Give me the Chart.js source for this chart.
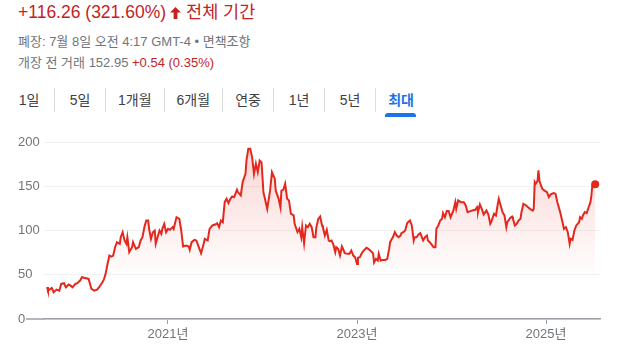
<!DOCTYPE html>
<html lang="ko">
<head>
<meta charset="utf-8">
<script src="https://cdn.jsdelivr.net/npm/chart.js@4"></script>
<style>
  html, body { margin: 0; padding: 0; background: #fff; }
  body { width: 640px; height: 360px; position: relative; overflow: hidden;
         font-family: "Liberation Sans", Arial, "Noto Sans CJK KR", sans-serif; }
  .head { position: absolute; left: 18px; top: 1px; font-size: 17.5px; line-height: 22px; color: #c5221f; white-space: nowrap; }
  .head svg { vertical-align: -1px; margin: 0 5px 0 4px; }
  .sub { position: absolute; left: 18px; font-size: 13px; line-height: 16px; color: #70757a; white-space: nowrap; }
  .red { color: #c5221f; }
  .tabs { position: absolute; left: 4px; top: 88px; display: flex; font-size: 14px; line-height: 24px; color: #3c4043; }
  .tabs span { position: relative; padding: 0 12px; min-width: 26px; text-align: center; }
  .tabs span + span { border-left: 1px solid #dadce0; }
  .tabs .on { color: #1a73e8; font-weight: bold; }
  .tabs .on::after { content: ""; position: absolute; left: 50%; margin-left: -16px; width: 31px; bottom: -5px; height: 4px;
                     background: #1a73e8; border-radius: 3px 3px 0 0; }
  #box { position: absolute; left: 0; top: 130px; width: 640px; height: 230px; }
</style>
</head>
<body>
<div class="head">+116.26 (321.60%)<svg width="11" height="12" viewBox="0 0 11 12"><path fill="#c5221f" d="M5.5 0L0 5.6h3.6V12h3.8V5.6H11z"/></svg>전체 기간</div>
<div class="sub" style="top:34px">폐장: 7월 8일 오전 4:17 GMT-4 • 면책조항</div>
<div class="sub" style="top:55px">개장 전 거래 152.95 <span class="red">+0.54 (0.35%)</span></div>
<div class="tabs">
  <span>1일</span><span>5일</span><span>1개월</span><span>6개월</span><span>연중</span><span>1년</span><span>5년</span><span class="on">최대</span>
</div>
<div id="box"><canvas id="chart"></canvas></div>
<script>
// dates as decimal years, closes
const dates = [
  2019.72, 2019.73, 2019.77, 2019.79, 2019.82, 2019.85, 2019.87, 2019.90, 2019.92, 2019.95,
  2019.97, 2019.99, 2020.02, 2020.04, 2020.07, 2020.09, 2020.12, 2020.16, 2020.17, 2020.19,
  2020.22, 2020.25, 2020.27, 2020.30, 2020.32, 2020.34, 2020.36, 2020.38, 2020.40, 2020.42,
  2020.44, 2020.46, 2020.49, 2020.50, 2020.52, 2020.54, 2020.56, 2020.57, 2020.59, 2020.62,
  2020.63, 2020.66, 2020.69, 2020.71, 2020.73, 2020.75, 2020.77, 2020.79, 2020.80, 2020.82,
  2020.84, 2020.86, 2020.87, 2020.89, 2020.91, 2020.93, 2020.94, 2020.96, 2020.98, 2021.00,
  2021.02, 2021.05, 2021.06, 2021.09, 2021.12, 2021.14, 2021.16, 2021.19, 2021.22, 2021.23,
  2021.25, 2021.28, 2021.30, 2021.32, 2021.35, 2021.37, 2021.39, 2021.42, 2021.44, 2021.47,
  2021.50, 2021.52, 2021.54, 2021.56, 2021.58, 2021.60, 2021.62, 2021.64, 2021.66, 2021.68,
  2021.70, 2021.73, 2021.74, 2021.77, 2021.79, 2021.82, 2021.83, 2021.85, 2021.87, 2021.89,
  2021.91, 2021.93, 2021.95, 2021.97, 2021.99, 2022.01, 2022.03, 2022.05, 2022.08, 2022.10,
  2022.13, 2022.14, 2022.17, 2022.19, 2022.20, 2022.22, 2022.24, 2022.26, 2022.28, 2022.30,
  2022.33, 2022.34, 2022.37, 2022.39, 2022.41, 2022.42, 2022.44, 2022.46, 2022.48, 2022.50,
  2022.52, 2022.54, 2022.56, 2022.57, 2022.59, 2022.61, 2022.63, 2022.64, 2022.66, 2022.68,
  2022.70, 2022.71, 2022.73, 2022.75, 2022.77, 2022.78, 2022.80, 2022.82, 2022.84, 2022.86,
  2022.87, 2022.90, 2022.92, 2022.94, 2022.96, 2022.98, 2023.00, 2023.01, 2023.03, 2023.05,
  2023.07, 2023.10, 2023.12, 2023.14, 2023.17, 2023.18, 2023.20, 2023.22, 2023.23, 2023.25,
  2023.27, 2023.30, 2023.32, 2023.34, 2023.35, 2023.37, 2023.38, 2023.40, 2023.42, 2023.44,
  2023.46, 2023.47, 2023.49, 2023.51, 2023.53, 2023.54, 2023.56, 2023.58, 2023.60, 2023.61,
  2023.63, 2023.65, 2023.67, 2023.68, 2023.70, 2023.72, 2023.74, 2023.75, 2023.77, 2023.79,
  2023.81, 2023.83, 2023.84, 2023.86, 2023.88, 2023.90, 2023.91, 2023.93, 2023.95, 2023.97,
  2023.99, 2024.02, 2024.04, 2024.05, 2024.07, 2024.10, 2024.13, 2024.15, 2024.17, 2024.20,
  2024.22, 2024.25, 2024.27, 2024.28, 2024.30, 2024.32, 2024.34, 2024.35, 2024.37, 2024.39,
  2024.41, 2024.42, 2024.45, 2024.47, 2024.49, 2024.50, 2024.52, 2024.54, 2024.56, 2024.58,
  2024.59, 2024.62, 2024.64, 2024.65, 2024.67, 2024.69, 2024.71, 2024.73, 2024.74, 2024.76,
  2024.79, 2024.81, 2024.83, 2024.86, 2024.87, 2024.88, 2024.89, 2024.91, 2024.92, 2024.93,
  2024.94, 2024.96, 2024.98, 2025.01, 2025.03, 2025.05, 2025.08, 2025.10, 2025.12, 2025.15,
  2025.17, 2025.19, 2025.21, 2025.23, 2025.25, 2025.26, 2025.28, 2025.30, 2025.32, 2025.35,
  2025.36, 2025.38, 2025.39, 2025.41, 2025.43, 2025.45, 2025.47, 2025.48, 2025.49, 2025.52
];
const closes = [
  36.1, 32.0, 35.1, 30.2, 33.2, 32.0, 39.6, 40.4, 35.8, 38.9,
  37.7, 35.8, 39.6, 40.4, 43.4, 47.2, 46.4, 45.3, 41.5, 34.0,
  32.0, 33.2, 35.8, 40.4, 44.1, 51.0, 62.2, 71.7, 70.6, 71.7,
  81.1, 86.8, 84.9, 92.4, 98.1, 88.7, 84.9, 92.4, 75.5, 81.1,
  86.8, 79.2, 81.1, 88.7, 92.4, 103.8, 111.3, 111.3, 101.9, 90.6,
  98.1, 100.0, 84.9, 92.4, 100.0, 96.2, 101.9, 107.5, 98.1, 101.9,
  100.8, 103.8, 101.9, 115.0, 113.2, 100.0, 81.9, 83.0, 81.9, 78.1,
  86.8, 89.4, 88.7, 83.0, 74.3, 81.9, 90.6, 88.7, 101.9, 105.7,
  106.8, 108.3, 103.8, 111.3, 109.4, 132.0, 135.8, 131.0, 135.8, 138.5,
  137.7, 146.0, 143.4, 139.6, 154.7, 164.0, 179.0, 192.5, 192.5, 183.0,
  164.0, 175.5, 166.0, 179.0, 177.0, 143.0, 134.0, 124.5, 145.0, 166.0,
  158.5, 145.0, 136.0, 126.0, 145.0, 146.0, 152.8, 136.0, 134.0, 119.0,
  117.0, 107.5, 98.1, 101.9, 92.4, 103.8, 85.6, 105.7, 103.8, 107.5,
  103.8, 92.4, 92.4, 103.8, 113.0, 115.8, 105.7, 103.0, 94.3, 100.7,
  88.7, 88.0, 88.7, 84.0, 75.5, 81.1, 79.2, 71.7, 81.9, 77.3,
  74.3, 73.6, 73.6, 77.3, 71.7, 69.8, 62.2, 69.1, 69.8, 74.3,
  77.3, 80.4, 79.2, 77.3, 74.3, 64.0, 67.9, 66.0, 73.6, 66.0,
  66.8, 66.8, 68.0, 79.2, 86.8, 90.6, 92.4, 98.1, 94.3, 92.4,
  94.3, 96.9, 98.1, 100.0, 108.3, 109.4, 111.3, 105.7, 88.7, 92.4,
  92.4, 95.5, 97.0, 94.3, 88.7, 92.4, 94.3, 88.7, 86.8, 84.0,
  81.1, 81.1, 101.9, 105.7, 111.3, 113.2, 119.6, 115.0, 122.0, 122.0,
  115.0, 122.6, 132.0, 124.5, 134.0, 132.0, 132.0, 128.3, 120.7, 121.9,
  122.6, 123.4, 126.4, 120.7, 129.4, 124.5, 118.1, 119.6, 122.6, 118.1,
  107.5, 109.4, 118.9, 117.0, 130.2, 135.8, 128.3, 120.7, 117.0, 103.8,
  109.4, 114.3, 115.8, 113.2, 105.7, 107.5, 111.3, 113.2, 120.7, 130.2,
  128.3, 126.4, 124.5, 122.6, 124.5, 154.7, 152.8, 155.8, 167.9, 156.6,
  152.8, 147.2, 145.3, 143.4, 137.7, 140.8, 142.3, 141.5, 132.0, 120.7,
  111.3, 101.9, 103.8, 98.1, 84.9, 90.6, 89.4, 100.0, 105.7, 109.4,
  115.0, 113.2, 117.0, 120.7, 119.6, 126.0, 132.0, 139.6, 151.0, 152.4
];
const yearTicks = [2021, 2023, 2025];
const priceTicks = [0, 50, 100, 150, 200];
const xRange = [2019.688, 2025.571];

const RED = '#e3281d';
const GREY = '#70757a';
const FONT = '"Liberation Sans", Arial, "Noto Sans CJK KR", sans-serif';

// the baseline runs a bit further left than the grid, past the "0" label
const baseline = {
  id: 'baseline',
  afterDraw(chart) {
    const { ctx, chartArea, scales } = chart;
    const y = scales.y.getPixelForValue(0);
    ctx.save();
    ctx.strokeStyle = '#9aa0a6';
    ctx.lineWidth = 1.5;
    ctx.beginPath();
    ctx.moveTo(scales.y.left + 8, y);
    ctx.lineTo(chartArea.left, y);
    ctx.stroke();
    ctx.restore();
  }
};

new Chart(document.getElementById('chart'), {
  type: 'line',
  data: {
    datasets: [{
      data: dates.map((d, i) => ({ x: d, y: closes[i] })),
      borderColor: RED,
      borderWidth: 2,
      tension: 0,
      fill: 'origin',
      backgroundColor(c) {
        const { chartArea: a, ctx, scales } = c.chart;
        if (!a) return 'rgba(227,40,29,0.05)';
        // fades out well above the baseline
        const g = ctx.createLinearGradient(0, a.top, 0, scales.y.getPixelForValue(45));
        g.addColorStop(0, 'rgba(227,40,29,0.2)');
        g.addColorStop(1, 'rgba(227,40,29,0)');
        return g;
      },
      pointRadius: c => c.dataIndex === closes.length - 1 ? 4 : 0,
      pointBackgroundColor: RED,
      pointBorderWidth: 0
    }]
  },
  options: {
    responsive: true,
    maintainAspectRatio: false,
    animation: false,
    layout: { padding: { top: 12, left: 18, right: 40, bottom: 0 } },
    plugins: { legend: { display: false }, tooltip: { enabled: false } },
    scales: {
      x: {
        type: 'linear',
        min: xRange[0],
        max: xRange[1],
        afterBuildTicks: s => { s.ticks = yearTicks.map(v => ({ value: v })); },
        afterFit: s => { s.height = 41; },
        grid: { drawOnChartArea: false, tickLength: 5, tickColor: '#9aa0a6' },
        border: { color: '#9aa0a6', width: 1.5 },
        ticks: { color: GREY, font: { family: FONT, size: 13 }, padding: 3, callback: v => v + '년' }
      },
      y: {
        min: 0,
        max: 200,
        afterBuildTicks: s => { s.ticks = priceTicks.map(v => ({ value: v })); },
        afterFit: s => { s.width = 26; },
        grid: { color: '#f1f1f1', drawTicks: false },
        border: { display: false },
        ticks: { color: GREY, font: { family: FONT, size: 13 }, crossAlign: 'far', padding: 0 }
      }
    }
  },
  plugins: [baseline]
});
</script>
</body>
</html>
